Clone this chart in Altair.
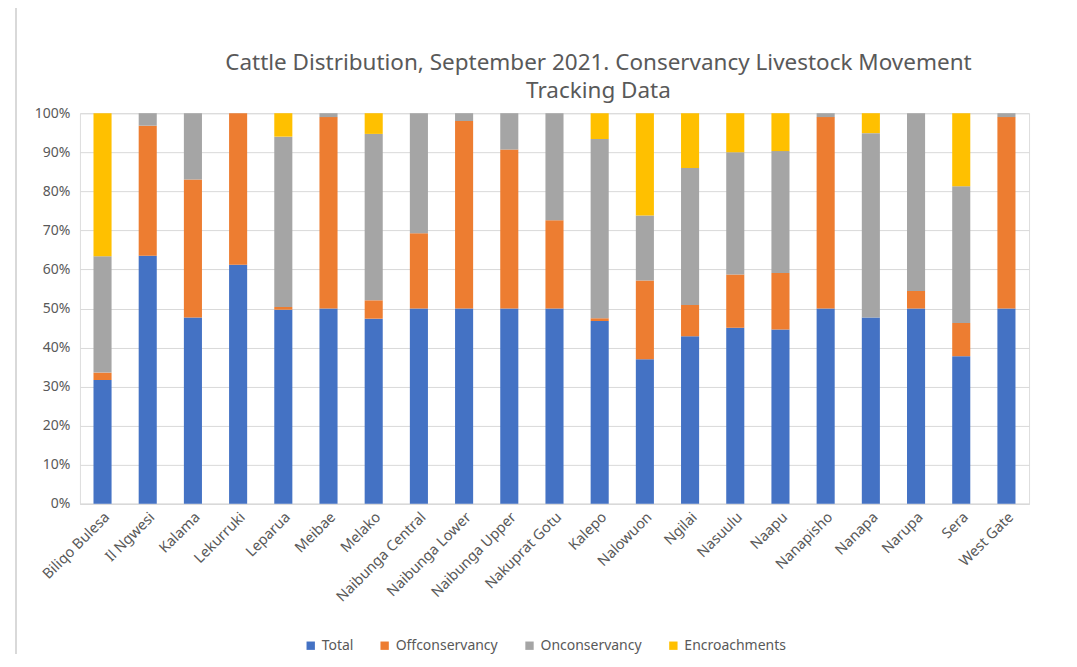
import altair as alt
import pandas as pd

categories = ["Biliqo Bulesa", "Il Ngwesi", "Kalama", "Lekurruki", "Leparua", "Meibae",
              "Melako", "Naibunga Central", "Naibunga Lower", "Naibunga Upper",
              "Nakuprat Gotu", "Kalepo", "Nalowuon", "Ngilai", "Nasuulu", "Naapu",
              "Nanapisho", "Nanapa", "Narupa", "Sera", "West Gate"]
total = [31.7, 63.5, 47.7, 61.2, 49.7, 50.0, 47.4, 50.0, 50.0, 50.0, 50.0,
         46.8, 37.0, 42.9, 45.1, 44.6, 50.0, 47.7, 50.0, 37.8, 50.0]
offconservancy = [1.9, 33.3, 35.3, 38.8, 0.7, 49.0, 4.7, 19.3, 48.0, 40.7, 22.6,
                  0.7, 20.2, 8.0, 13.6, 14.5, 49.0, 0.0, 4.5, 8.5, 49.0]
onconservancy = [29.8, 3.2, 17.0, 0.0, 43.6, 1.0, 42.6, 30.7, 2.0, 9.3, 27.4,
                 45.9, 16.6, 35.1, 31.3, 31.2, 1.0, 47.2, 45.5, 35.0, 1.0]
encroachments = [36.6, 0.0, 0.0, 0.0, 6.0, 0.0, 5.3, 0.0, 0.0, 0.0, 0.0,
                 6.6, 26.2, 14.0, 10.0, 9.7, 0.0, 5.1, 0.0, 18.7, 0.0]
series = ["Total", "Offconservancy", "Onconservancy", "Encroachments"]
colors = ["#4472C4", "#ED7D31", "#A5A5A5", "#FFC000"]
y_ticks = [0, 0.1, 0.2, 0.3, 0.4, 0.5, 0.6, 0.7, 0.8, 0.9, 1.0]

rows = []
for i, site in enumerate(categories):
    for k, vals in enumerate([total, offconservancy, onconservancy, encroachments]):
        rows.append({"site": site, "series": series[k], "idx": k, "value": vals[i]})
df = pd.DataFrame(rows)

FONT = "Noto Sans"
TXT = "#595959"

bars = alt.Chart(df).mark_bar().encode(
    x=alt.X("site:N", sort=categories,
            scale=alt.Scale(paddingInner=0.6, paddingOuter=0.3),
            axis=alt.Axis(title=None, labelAngle=-45, labelFontSize=14.5, labelColor=TXT,
                          labelFont=FONT, ticks=False, domainColor="#D9D9D9",
                          domainWidth=1.5, labelPadding=6)),
    y=alt.Y("value:Q", stack="normalize", scale=alt.Scale(domain=[0, 1], nice=False),
            axis=alt.Axis(title=None, format=".0%", values=y_ticks, labelFontSize=14,
                          labelColor=TXT, labelFont=FONT, ticks=False, domain=False,
                          gridColor="#D9D9D9", labelPadding=10)),
    color=alt.Color("series:N", sort=series,
                    scale=alt.Scale(domain=series, range=colors),
                    legend=alt.Legend(title=None, orient="none", direction="horizontal",
                                      legendX=224, legendY=526, symbolType="square",
                                      symbolSize=70, symbolStrokeWidth=0,
                                      labelFontSize=14, labelColor=TXT, labelFont=FONT,
                                      columnPadding=24, labelOffset=4)),
    order=alt.Order("idx:Q", sort="ascending"),
)

border_top = alt.Chart(df).mark_rule(color="#D9D9D9", strokeWidth=1.5).encode(
    x=alt.value(-64), x2=alt.value(1010), y=alt.value(-107))
border_left = alt.Chart(df).mark_rule(color="#D9D9D9", strokeWidth=1.5).encode(
    x=alt.value(-64), y=alt.value(-107), y2=alt.value(560))

chart = alt.layer(border_top, border_left, bars).properties(
    width=950, height=391,
    autosize=alt.AutoSizeParams(type="none"),
    padding={"left": 72, "top": 105, "right": 40, "bottom": 150},
    title=alt.TitleParams(
        text=["Cattle Distribution, September 2021. Conservancy Livestock Movement",
              "Tracking Data"],
        font=FONT, fontSize=22.5, fontWeight="normal", color=TXT, anchor="middle",
        lineHeight=28, offset=-97, dx=44),
).configure_view(stroke=None).configure(background="white")

chart.save("out.html", embed_options={"renderer": "svg", "actions": False})
